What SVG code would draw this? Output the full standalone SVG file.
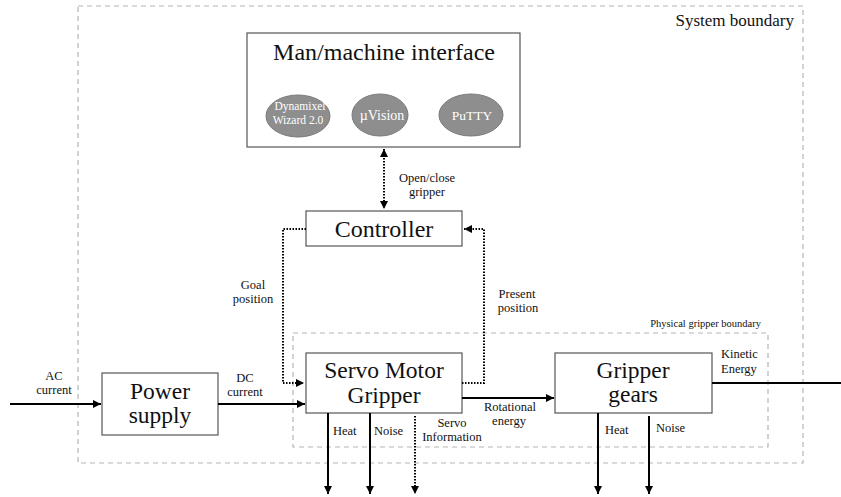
<svg xmlns="http://www.w3.org/2000/svg" width="841" height="497" viewBox="0 0 841 497">
<style>
.box{fill:#fff;stroke:#555;stroke-width:1.2}
.bnd{fill:none;stroke:#b5b5b5;stroke-width:1.2;stroke-dasharray:5 4}
.sol{fill:none;stroke:#000;stroke-width:2}
.dot{fill:none;stroke:#000;stroke-width:2;stroke-dasharray:1.5 1.5}
.ell{fill:#8e8e8e;stroke:#7a7a7a;stroke-width:1}
</style>
<defs>
<marker id="ah" markerUnits="userSpaceOnUse" markerWidth="9" markerHeight="8" refX="8" refY="4" orient="auto-start-reverse">
<path d="M0,0 L8,4 L0,8 z" fill="#000"/>
</marker>
</defs>
<rect width="841" height="497" fill="#fff"/>

<g id="boundaries">
<rect class="bnd" x="78" y="6" width="725" height="457"/>
<text font-family="Liberation Serif" font-size="17" x="794" y="26" text-anchor="end" fill="#111">System boundary</text>
<rect class="bnd" x="293" y="333" width="475" height="114"/>
<text font-family="Liberation Serif" font-size="10.5" x="761" y="327" text-anchor="end" fill="#111">Physical gripper boundary</text>
</g>

<g id="mmi">
<rect class="box" x="247" y="33" width="273" height="114"/>
<text font-family="Liberation Serif" font-size="24" x="384" y="60" text-anchor="middle" fill="#111">Man/machine interface</text>
<g id="dynamixel">
<ellipse class="ell" cx="298" cy="116" rx="32" ry="21"/>
<text font-family="Liberation Serif" font-size="11.5" x="300" y="110" text-anchor="middle" fill="#fff">Dynamixel</text>
<text font-family="Liberation Serif" font-size="11.5" x="298" y="124" text-anchor="middle" fill="#fff">Wizard 2.0</text>
</g>
<g id="uvision">
<ellipse class="ell" cx="380" cy="115" rx="28" ry="21"/>
<text font-family="Liberation Serif" font-size="14" x="382" y="120" text-anchor="middle" fill="#fff">&#181;Vision</text>
</g>
<g id="putty">
<ellipse class="ell" cx="471" cy="115" rx="32" ry="21"/>
<text font-family="Liberation Serif" font-size="13.5" x="472" y="120" text-anchor="middle" fill="#fff">PuTTY</text>
</g>
</g>

<g id="controller">
<rect class="box" x="306" y="211" width="156" height="35"/>
<text font-family="Liberation Serif" font-size="24" x="384" y="237" text-anchor="middle" fill="#111">Controller</text>
</g>

<g id="power">
<rect class="box" x="102" y="373" width="116" height="62"/>
<text font-family="Liberation Serif" font-size="23.5" x="160" y="399" text-anchor="middle" fill="#111">Power</text>
<text font-family="Liberation Serif" font-size="23.5" x="160" y="423" text-anchor="middle" fill="#111">supply</text>
</g>

<g id="servo">
<rect class="box" x="306" y="353" width="156" height="60"/>
<text font-family="Liberation Serif" font-size="23.5" x="384" y="378" text-anchor="middle" fill="#111">Servo Motor</text>
<text font-family="Liberation Serif" font-size="23.5" x="384" y="403" text-anchor="middle" fill="#111">Gripper</text>
</g>

<g id="gears">
<rect class="box" x="555" y="353" width="157" height="60"/>
<text font-family="Liberation Serif" font-size="23.5" x="633" y="378" text-anchor="middle" fill="#111">Gripper</text>
<text font-family="Liberation Serif" font-size="23.5" x="633" y="402" text-anchor="middle" fill="#111">gears</text>
</g>

<g id="connectors">
<line class="dot" x1="384" y1="149" x2="384" y2="209" marker-start="url(#ah)" marker-end="url(#ah)"/>
<polyline class="dot" points="306,229 283,229 283,383 304,383" marker-end="url(#ah)"/>
<polyline class="dot" points="462,383 484,383 484,229 464,229" marker-end="url(#ah)"/>
<line class="dot" x1="415" y1="416" x2="415" y2="494" marker-end="url(#ah)"/>
<line class="sol" x1="10" y1="404" x2="101" y2="404" marker-end="url(#ah)"/>
<line class="sol" x1="218" y1="404" x2="305" y2="404" marker-end="url(#ah)"/>
<line class="sol" x1="462" y1="398" x2="554" y2="398" marker-end="url(#ah)"/>
<line class="sol" x1="712" y1="383" x2="841" y2="383"/>
<line class="sol" x1="328" y1="413" x2="328" y2="494" marker-end="url(#ah)"/>
<line class="sol" x1="370" y1="413" x2="370" y2="494" marker-end="url(#ah)"/>
<line class="sol" x1="598" y1="413" x2="598" y2="494" marker-end="url(#ah)"/>
<line class="sol" x1="649" y1="416" x2="649" y2="494" marker-end="url(#ah)"/>
<g fill="#111">
<text font-family="Liberation Serif" font-size="12.5" text-anchor="middle" x="427" y="182">Open/close</text>
<text font-family="Liberation Serif" font-size="12.5" text-anchor="middle" x="427" y="196">gripper</text>
<text font-family="Liberation Serif" font-size="12.5" text-anchor="middle" x="253" y="289">Goal</text>
<text font-family="Liberation Serif" font-size="12.5" text-anchor="middle" x="253" y="303">position</text>
<text font-family="Liberation Serif" font-size="12.5" text-anchor="middle" x="517" y="298">Present</text>
<text font-family="Liberation Serif" font-size="12.5" text-anchor="middle" x="518" y="312">position</text>
<text font-family="Liberation Serif" font-size="12.5" text-anchor="middle" x="54" y="380">AC</text>
<text font-family="Liberation Serif" font-size="12.5" text-anchor="middle" x="54" y="394">current</text>
<text font-family="Liberation Serif" font-size="12.5" text-anchor="middle" x="245" y="382">DC</text>
<text font-family="Liberation Serif" font-size="12.5" text-anchor="middle" x="245" y="396">current</text>
<text font-family="Liberation Serif" font-size="12.5" text-anchor="middle" x="510" y="411">Rotational</text>
<text font-family="Liberation Serif" font-size="12.5" text-anchor="middle" x="509" y="425">energy</text>
<text font-family="Liberation Serif" font-size="12.5" x="721" y="358">Kinetic</text>
<text font-family="Liberation Serif" font-size="12.5" x="721" y="373">Energy</text>
<text font-family="Liberation Serif" font-size="12.5" x="333" y="435">Heat</text>
<text font-family="Liberation Serif" font-size="12.5" x="374" y="435">Noise</text>
<text font-family="Liberation Serif" font-size="12.5" text-anchor="middle" x="452" y="427">Servo</text>
<text font-family="Liberation Serif" font-size="12.5" text-anchor="middle" x="452" y="441">Information</text>
<text font-family="Liberation Serif" font-size="12.5" x="605" y="434">Heat</text>
<text font-family="Liberation Serif" font-size="12.5" x="656" y="432">Noise</text>
</g>
</g>
</svg>
